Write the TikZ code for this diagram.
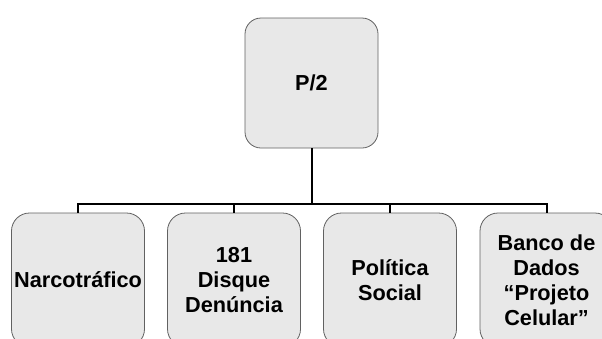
\documentclass[tikz,border=0pt]{standalone}
\usepackage{fontspec}
\setmainfont{Liberation Sans}
\begin{document}
\begin{tikzpicture}[x=1pt,y=1pt,
  box/.style={draw=black!62,line width=0.8pt,fill=black!9,rounded corners=18pt,
    minimum width=133pt,align=center,inner sep=2pt,
    font=\fontsize{21.7}{25}\selectfont\bfseries},
  link/.style={draw=black,line width=2pt}]
\useasboundingbox (0,0) rectangle (602,-338);
\clip (0,0) rectangle (602,-338);
\node[box,minimum height=130pt,rounded corners=16pt] (top) at (311.5,-83) {P/2};
\node[box,minimum height=134pt] (b1) at (78,-280) {Narcotráfico};
\node[box,minimum height=134pt] (b2) at (234,-280) {181\\Disque\\Denúncia};
\node[box,minimum height=134pt] (b3) at (390,-280) {Política\\Social};
\node[box,minimum height=134pt] (b4) at (546.5,-280) {Banco de\\Dados\\“Projeto\\Celular”};
\coordinate (bus) at (311.5,-204);
\draw[link] (top.south) -- (bus);
\draw[link] (b1.north) |- (b4.north |- bus) -- (b4.north);
\draw[link] (b2.north) -- (b2.north |- bus);
\draw[link] (b3.north) -- (b3.north |- bus);
\end{tikzpicture}
\end{document}
